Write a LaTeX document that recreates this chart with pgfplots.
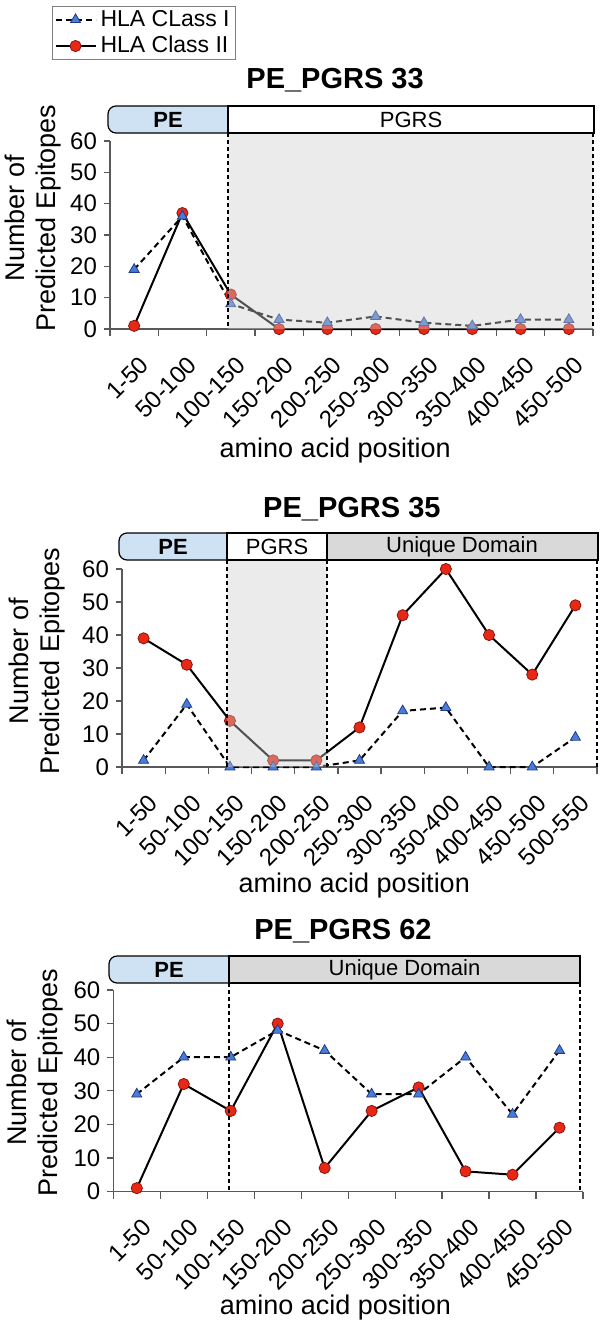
\documentclass[border=0pt]{standalone}
\usepackage{fontspec}
\setmainfont{Liberation Sans}
\usepackage{pgfplots}
\pgfplotsset{compat=1.18}

\definecolor{pefill}{RGB}{207,226,243}
\definecolor{udfill}{RGB}{217,217,217}
\definecolor{triblue}{RGB}{74,124,214}
\definecolor{tribluedark}{RGB}{30,60,140}
\definecolor{circred}{RGB}{232,40,22}
\definecolor{circreddark}{RGB}{140,20,10}

\pgfplotsset{
  epi/.style={
    scale only axis, clip=false,
    axis x line*=bottom, axis y line*=left,
    axis line style={-, black!65, line width=0.6pt},
    ymin=0, ymax=60, ytick={0,10,...,60},
    tick align=outside,
    major tick length=3pt, minor tick length=3.5pt,
    every tick/.append style={black!65, line width=0.6pt},
    major x tick style={draw=none},
    tick label style={font=\fontsize{12}{13}\selectfont, black},
    /pgf/number format/assume math mode=true,
    x tick label style={font=\fontsize{12}{13}\selectfont, xshift=2pt, yshift=-5pt, rotate=45, anchor=north east},
    xlabel={amino acid position},
    ylabel={Number of\\Predicted Epitopes},
    xlabel style={font=\fontsize{13.5}{16}\selectfont, anchor=center},
    ylabel style={font=\fontsize{13.5}{15.5}\selectfont, align=center, anchor=center},
    title style={font=\fontsize{14.5}{17}\selectfont\bfseries, anchor=center, yshift=-6pt},
  },
  c1/.style={black, line width=1pt, dash pattern=on 3pt off 2pt,
    mark=triangle*, mark size=2.9pt,
    mark options={solid, fill=triblue, draw=tribluedark, line width=0.4pt}},
  c2/.style={black, line width=1pt, solid,
    mark=*, mark size=2.8pt,
    mark options={fill=circred, draw=circreddark, line width=0.4pt}},
}

\begin{document}
\begin{tikzpicture}
\useasboundingbox (0,0) rectangle (300pt,-661.5pt);

% ---- PE_PGRS 33
\begin{axis}[epi,
  at={(55pt,-164.5pt)}, anchor=south west,
  width=241.5pt, height=94pt,
  xmin=-0.5, xmax=9.5,
  xtick={0,...,9},
  xticklabels={1-50,50-100,100-150,150-200,200-250,250-300,300-350,350-400,400-450,450-500},
  minor xtick={-0.5,0.5,...,9.5},
  title={PE\_PGRS 33},
  title style={at={(axis description cs:0.466,1.324)}},
  xlabel style={at={(axis description cs:0.466,-0.645)}},
  ylabel style={at={(axis description cs:-0.159,0.59)}},
  reverse legend,
  legend style={at={(axis description cs:-0.12,1.72)}, anchor=north west,
    draw=black!50, line width=0.5pt, font=\fontsize{11.5}{13}\selectfont,
    cells={anchor=west}, inner xsep=1pt, inner ysep=0pt, row sep=-0.5pt},
  legend image code/.code={\draw[mark repeat=2, mark phase=2] plot coordinates {(0pt,0pt) (10pt,0pt) (20pt,0pt)};},
]
\addplot[c2] coordinates {(0,1) (1,37) (2,11) (3,0) (4,0) (5,0) (6,0) (7,0) (8,0) (9,0)};
\addlegendentry{HLA Class II}
\addplot[c1] coordinates {(0,19) (1,36) (2,8) (3,3) (4,2) (5,4) (6,2) (7,1) (8,3) (9,3)};
\addlegendentry{HLA CLass I}
\end{axis}

% ---- PE_PGRS 35
\begin{axis}[epi,
  at={(61pt,-383.5pt)}, anchor=south west,
  width=237.5pt, height=99pt,
  xmin=-0.5, xmax=10.5,
  xtick={0,...,10},
  xticklabels={1-50,50-100,100-150,150-200,200-250,250-300,300-350,350-400,400-450,450-500,500-550},
  minor xtick={-0.5,0.5,...,10.5},
  title={PE\_PGRS 35},
  title style={at={(axis description cs:0.484,1.3)}},
  xlabel style={at={(axis description cs:0.489,-0.6)}},
  ylabel style={at={(axis description cs:-0.179,0.535)}},
]
\addplot[c2] coordinates {(0,39) (1,31) (2,14) (3,2) (4,2) (5,12) (6,46) (7,60) (8,40) (9,28) (10,49)};
\addplot[c1] coordinates {(0,2) (1,19) (2,0) (3,0) (4,0) (5,2) (6,17) (7,18) (8,0) (9,0) (10,9)};
\end{axis}

% ---- PE_PGRS 62
\begin{axis}[epi,
  at={(56.65pt,-595.75pt)}, anchor=south west,
  width=234.85pt, height=100.75pt,
  xmin=-0.5, xmax=9.5,
  xtick={0,...,9},
  xticklabels={1-50,50-100,100-150,150-200,200-250,250-300,300-350,350-400,400-450,450-500},
  minor xtick={-0.5,0.5,...,9.5},
  title={PE\_PGRS 62},
  title style={at={(axis description cs:0.489,1.29)}},
  xlabel style={at={(axis description cs:0.473,-0.575)}},
  ylabel style={at={(axis description cs:-0.166,0.54)}},
]
\addplot[c2] coordinates {(0,1) (1,32) (2,24) (3,50) (4,7) (5,24) (6,31) (7,6) (8,5) (9,19)};
\addplot[c1] coordinates {(0,29) (1,40) (2,40) (3,48) (4,42) (5,29) (6,29) (7,40) (8,23) (9,42)};
\end{axis}

% ---- domain bars, shading and boundaries (pixel grid of the reference)
\begin{scope}[x=0.5pt, y=-0.5pt]
  \tikzset{bound/.style={black, line width=0.6pt, dash pattern=on 2pt off 1.5pt},
           dom/.style={font=\fontsize{11}{13}\selectfont}}
  % panel 1
  \fill[black!20, fill opacity=0.4] (228,133) rectangle (593,329);
  \draw[bound] (228,133) -- (228,329) (593,133) -- (593,329);
  \fill[pefill, rounded corners=4pt] (230,106) -- (108,106) -- (108,133) -- (230,133);
  \filldraw[fill=white, line width=0.6pt] (228,106) rectangle (594,133);
  \draw[line width=0.6pt, rounded corners=4pt] (228,106) -- (108,106) -- (108,133) -- (228,133);
  \node[dom, font=\fontsize{11}{13}\selectfont\bfseries] at (168,119.5) {PE};
  \node[dom] at (411,119.5) {PGRS};
  % panel 2
  \fill[black!20, fill opacity=0.4] (227,560) rectangle (327,767);
  \draw[bound] (227,560) -- (227,767) (327,560) -- (327,767) (597,560) -- (597,767);
  \fill[pefill, rounded corners=4pt] (229,533) -- (119,533) -- (119,560) -- (229,560);
  \filldraw[fill=white, line width=0.6pt] (227,533) rectangle (327,560);
  \filldraw[fill=udfill, line width=0.6pt] (327,533) rectangle (598,560);
  \draw[line width=0.6pt, rounded corners=4pt] (227,533) -- (119,533) -- (119,560) -- (227,560);
  \node[dom, font=\fontsize{11}{13}\selectfont\bfseries] at (173,546.5) {PE};
  \node[dom] at (277,546.5) {PGRS};
  \node[dom] at (462,546.5) {Unique Domain};
  % panel 3
  \draw[bound] (229,983) -- (229,1191.5) (580,983) -- (580,1191.5);
  \fill[pefill, rounded corners=4pt] (231,956) -- (109,956) -- (109,983) -- (231,983);
  \filldraw[fill=udfill, line width=0.6pt] (229,956) rectangle (580,983);
  \draw[line width=0.6pt, rounded corners=4pt] (229,956) -- (109,956) -- (109,983) -- (229,983);
  \node[dom, font=\fontsize{11}{13}\selectfont\bfseries] at (169,969.5) {PE};
  \node[dom] at (404.5,969.5) {Unique Domain};
\end{scope}
\end{tikzpicture}
\end{document}
